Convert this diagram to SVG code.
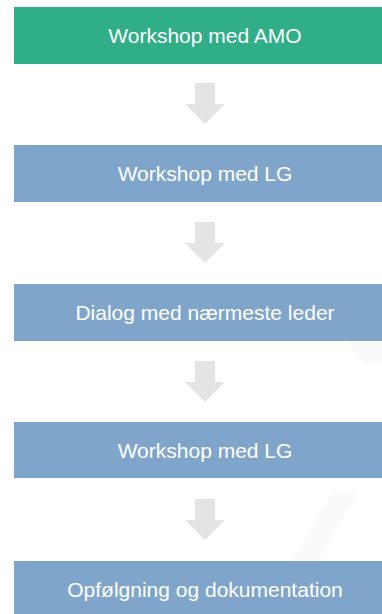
<svg xmlns="http://www.w3.org/2000/svg" width="382" height="614" viewBox="0 0 382 614">
<style>
.box{fill:#7fa6ca}
.g{fill:#2fae87}
.t{fill:#ffffff;font-family:"Liberation Sans",Arial,sans-serif;font-size:21px;text-anchor:middle}
.arr{fill:#e4e4e4}
.wm{fill:#fafafa}
</style>
<rect width="382" height="614" fill="#ffffff"/>
<polygon class="wm" points="348,341 382,341 382,363 362,363"/>
<polygon class="wm" points="333,493 357,493 317,561 293,561"/>
<g id="connectors">
<path class="arr" d="M195,83 H215 V104 H225 L205,124 L185,104 H195 Z"/>
<path class="arr" d="M195,222 H215 V243 H225 L205,263 L185,243 H195 Z"/>
<path class="arr" d="M195,361 H215 V382 H225 L205,402 L185,382 H195 Z"/>
<path class="arr" d="M195,499 H215 V520 H225 L205,540 L185,520 H195 Z"/>
</g>
<g id="n1"><rect class="g" x="14" y="7" width="368" height="57"/><text class="t" x="205" y="43">Workshop med AMO</text></g>
<g id="n2"><rect class="box" x="14" y="145" width="368" height="57"/><text class="t" x="205" y="181">Workshop med LG</text></g>
<g id="n3"><rect class="box" x="14" y="284" width="368" height="57"/><text class="t" x="205" y="320">Dialog med nærmeste leder</text></g>
<g id="n4"><rect class="box" x="14" y="422" width="368" height="56"/><text class="t" x="205" y="458">Workshop med LG</text></g>
<g id="n5"><rect class="box" x="14" y="561" width="368" height="53"/><text class="t" x="205" y="597">Opfølgning og dokumentation</text></g>
</svg>
